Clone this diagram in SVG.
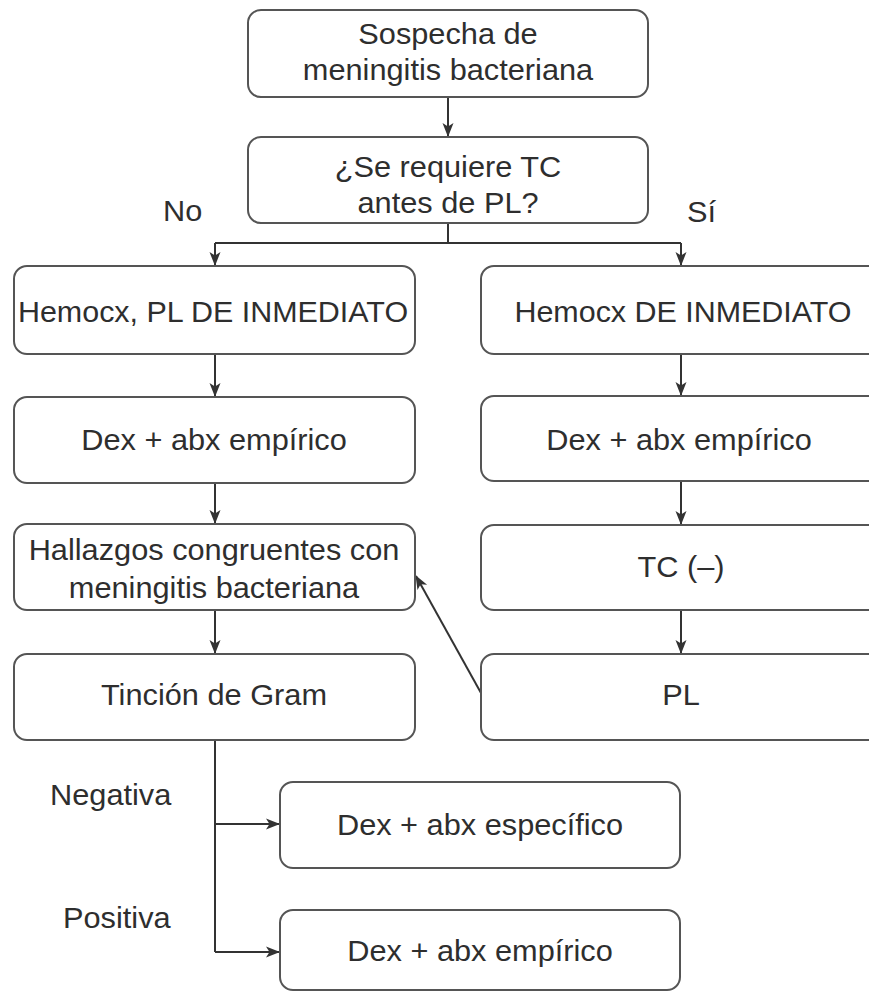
<svg xmlns="http://www.w3.org/2000/svg" width="869" height="993" viewBox="0 0 869 993">
<defs>
<marker id="ah" markerUnits="userSpaceOnUse" markerWidth="14" markerHeight="14" viewBox="0 0 14 14" refX="13" refY="7" orient="auto">
<path d="M0,1.5 L14,7 L0,12.5 L3.5,7 Z" fill="#333"/>
</marker>
<style>
.box{fill:#fff;stroke:#555;stroke-width:2}
.t{font-family:"Liberation Sans",Arial,sans-serif;font-size:29px;fill:#2e2e2e;text-anchor:middle}
.l{font-family:"Liberation Sans",Arial,sans-serif;font-size:29px;fill:#2e2e2e}
.c{fill:none;stroke:#333;stroke-width:2}
.a{marker-end:url(#ah)}
</style>
</defs>
<rect width="869" height="993" fill="#fff"/>

<g id="connectors">
<path class="c a" d="M448,97 V136"/>
<path class="c" d="M448,223 V243 M215,243 H681"/>
<path class="c a" d="M215,243 V265"/>
<path class="c a" d="M681,243 V265"/>
<path class="c a" d="M215,354 V396"/>
<path class="c a" d="M215,483 V523"/>
<path class="c a" d="M215,610 V653"/>
<path class="c a" d="M681,354 V395"/>
<path class="c a" d="M681,481 V524"/>
<path class="c a" d="M681,610 V653"/>
<path class="c a" d="M481,693 L416,576"/>
<path class="c" d="M215,740 V952"/>
<path class="c a" d="M215,824 H279"/>
<path class="c a" d="M215,952 H279"/>
</g>

<g id="n-sospecha">
<rect class="box" x="248" y="10" width="400" height="87" rx="13"/>
<text class="t" transform="translate(448,44) scale(1.06,1)">Sospecha de</text>
<text class="t" transform="translate(448,80) scale(1.06,1)">meningitis bacteriana</text>
</g>
<g id="n-tc">
<rect class="box" x="248" y="137" width="400" height="86" rx="13"/>
<text class="t" transform="translate(448,177) scale(1.06,1)">¿Se requiere TC</text>
<text class="t" transform="translate(448,213) scale(1.06,1)">antes de PL?</text>
</g>
<g id="lbl-no"><text class="l" transform="translate(163,221) scale(1.06,1)">No</text></g>
<g id="lbl-si"><text class="l" transform="translate(687,222) scale(1.06,1)">Sí</text></g>

<g id="n-hemocx-pl">
<rect class="box" x="14" y="266" width="401" height="88" rx="13"/>
<text class="t" transform="translate(213,322) scale(1.05,1)">Hemocx, PL DE INMEDIATO</text>
</g>
<g id="n-dex-left">
<rect class="box" x="14" y="397" width="401" height="86" rx="13"/>
<text class="t" transform="translate(214,450) scale(1.06,1)">Dex + abx empírico</text>
</g>
<g id="n-hallazgos">
<rect class="box" x="14" y="524" width="401" height="86" rx="13"/>
<text class="t" transform="translate(214,560) scale(1.06,1)">Hallazgos congruentes con</text>
<text class="t" transform="translate(214,598) scale(1.06,1)">meningitis bacteriana</text>
</g>
<g id="n-gram">
<rect class="box" x="14" y="654" width="401" height="86" rx="13"/>
<text class="t" transform="translate(214,705) scale(1.06,1)">Tinción de Gram</text>
</g>

<g id="n-hemocx">
<rect class="box" x="481" y="266" width="404" height="88" rx="13"/>
<text class="t" transform="translate(683,322) scale(1.05,1)">Hemocx DE INMEDIATO</text>
</g>
<g id="n-dex-right">
<rect class="box" x="481" y="396" width="404" height="85" rx="13"/>
<text class="t" transform="translate(679,450) scale(1.06,1)">Dex + abx empírico</text>
</g>
<g id="n-tcneg">
<rect class="box" x="481" y="525" width="404" height="85" rx="13"/>
<text class="t" transform="translate(681,577) scale(1.06,1)">TC (–)</text>
</g>
<g id="n-pl">
<rect class="box" x="481" y="654" width="404" height="86" rx="13"/>
<text class="t" transform="translate(681,705) scale(1.06,1)">PL</text>
</g>

<g id="lbl-neg"><text class="l" transform="translate(50,805) scale(1.06,1)">Negativa</text></g>
<g id="lbl-pos"><text class="l" transform="translate(63,928) scale(1.06,1)">Positiva</text></g>

<g id="n-especifico">
<rect class="box" x="280" y="782" width="400" height="86" rx="13"/>
<text class="t" transform="translate(480,835) scale(1.06,1)">Dex + abx específico</text>
</g>
<g id="n-empirico">
<rect class="box" x="280" y="910" width="400" height="80" rx="13"/>
<text class="t" transform="translate(480,961) scale(1.06,1)">Dex + abx empírico</text>
</g>
</svg>
